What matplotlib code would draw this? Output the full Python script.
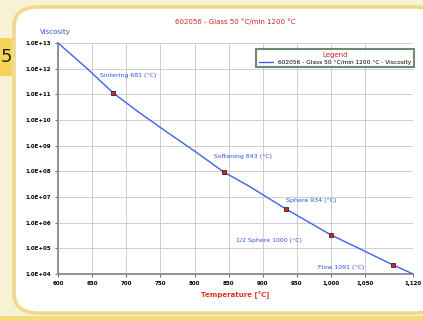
import numpy as np
import matplotlib.pyplot as plt
from matplotlib.patches import FancyBboxPatch, Rectangle

# curve (temperature in °C, log10 viscosity)
temp = [600, 640, 681, 720, 760, 800, 843, 880, 934, 1000, 1050, 1091, 1120]
log_visc = [13.0, 12.07, 11.05, 10.27, 9.52, 8.79, 7.97, 7.42, 6.53, 5.52, 4.88, 4.35, 4.0]

# characteristic points
pt_names = ["Sintering 681 (°C)", "Softening 843 (°C)", "Sphere 934 (°C)",
            "1/2 Sphere 1000 (°C)", "Flow 1091 (°C)"]
pt_temp = [681, 843, 934, 1000, 1091]
pt_logv = [11.05, 7.97, 6.53, 5.52, 4.35]
lbl_dx = [-13, -10, 0, -95, -75]   # px
lbl_dy = [18, 16, 9, -6, -2]

xticks = [600, 650, 700, 750, 800, 850, 900, 950, 1000, 1050, 1120]
xlabels = ["600", "650", "700", "750", "800", "850", "900", "950", "1,000", "1,050", "1,120"]
yticks = [10.0 ** e for e in range(4, 14)]
ylabels = ["1.0E+%02d" % e for e in range(4, 14)]

title = "602056 - Glass 50 °C/min 1200 °C"

fig = plt.figure(figsize=(4.23, 3.21), dpi=100)
fig.patch.set_facecolor("#f7f1d6")

W, H = 423, 321
def fx(px): return px / W
def fy(py): return 1 - py / H

# panel + frame
fig.patches.append(Rectangle((0, 0), 1, fy(316), transform=fig.transFigure,
                             facecolor="#f3dd78", edgecolor="none", zorder=0))
fig.patches.append(FancyBboxPatch((fx(14), fy(313)), fx(440) - fx(14), fy(7) - fy(313),
                                  boxstyle="round,pad=0,rounding_size=0.06",
                                  transform=fig.transFigure, facecolor="white",
                                  edgecolor="#ecd98a", linewidth=2.5, zorder=0.5))
fig.patches.append(Rectangle((0, fy(76)), fx(12), fy(38) - fy(76), transform=fig.transFigure,
                             facecolor="#f6d458", edgecolor="none", zorder=0.6))
fig.text(fx(0.5), fy(57), "5", fontsize=13, va="center", ha="left", color="#222222")

ax = fig.add_axes([fx(58), fy(274), fx(413) - fx(58), fy(43) - fy(274)])
ax.set_zorder(2)
ax.set_facecolor("none")

visc = [10 ** v for v in log_visc]
pv = [10 ** v for v in pt_logv]
ax.set_yscale("log")
ax.plot(temp, visc, color="#4060f0", lw=1.0, zorder=3, label=title + " - Viscosity")
ax.plot(pt_temp, pv, ls="none", marker="s", ms=2.5, mfc="#c03020", mec="#402020",
        mew=0.6, zorder=4)

for n, t, v, dx, dy in zip(pt_names, pt_temp, pv, lbl_dx, lbl_dy):
    ax.annotate(n, (t, v), xytext=(dx * 0.72, dy * 0.72), textcoords="offset points",
                fontsize=4.5, color="#3050e0", va="center", ha="left")

ax.set_xlim(600, 1120)
ax.set_ylim(1e4, 1e13)
ax.set_xticks(xticks)
ax.set_xticklabels(xlabels, fontsize=4, fontweight="bold")
ax.set_yticks(yticks)
ax.set_yticklabels(ylabels, fontsize=4, fontweight="bold")
ax.minorticks_off()
ax.tick_params(length=2, width=0.8, color="#707070", pad=3)
ax.grid(True, color="#c8c8c8", lw=0.6)
for s in ["top", "right"]:
    ax.spines[s].set_visible(False)
for s in ["left", "bottom"]:
    ax.spines[s].set_color("#8a8a8a")
    ax.spines[s].set_linewidth(1.3)

ax.set_title(title, fontsize=5, color="#d02020", pad=14)
ax.set_xlabel("Temperature [°C]", fontsize=5, color="#e03020", fontweight="bold", labelpad=4)
ax.text(-0.05, 1.035, "Viscosity", transform=ax.transAxes, fontsize=5,
        color="#3050e0", ha="left", va="bottom")

leg = ax.legend(loc="upper left", bbox_to_anchor=(0.549, 0.985), title="Legend",
                fontsize=4.2, title_fontsize=5, frameon=True, fancybox=False,
                handlelength=2.5, borderpad=0.5, labelspacing=0.2)
leg.get_title().set_color("#d02020")
leg.get_frame().set_edgecolor("#4d6b4d")
leg.get_frame().set_linewidth(1.5)

fig.savefig("out.png", dpi=100, facecolor=fig.get_facecolor())
